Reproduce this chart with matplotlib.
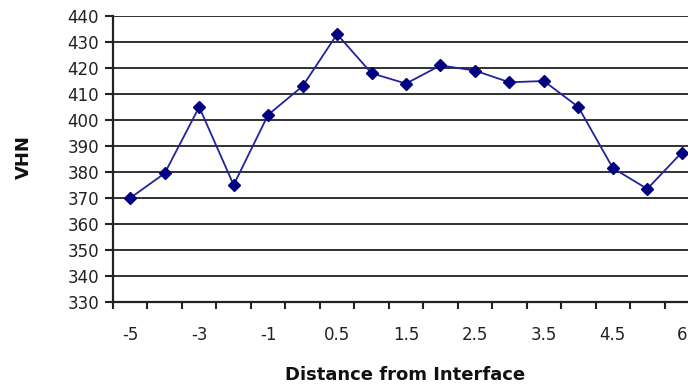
import numpy as np
import matplotlib
matplotlib.use('Agg')
from matplotlib import pyplot as plt

# distance categories (Excel category axis) and hardness readings
distance = ['-5', '-4', '-3', '-2', '-1', '0', '0.5', '1', '1.5', '2',
            '2.5', '3', '3.5', '4', '4.5', '5', '6']
vhn = [370, 379.5, 405, 375, 402, 413, 433, 418, 414, 421,
       419, 414.5, 415, 405, 381.5, 373.5, 387.5]
shown_labels = ['-5', '-3', '-1', '0.5', '1.5', '2.5', '3.5', '4.5', '6']
y_ticks = list(range(330, 441, 10))

plt.rcParams['font.family'] = ['DejaVu Sans']

fig = plt.figure(figsize=(6.88, 3.85), dpi=100)
ax = fig.add_axes([113 / 688, 1 - 302 / 385, 586 / 688, 286 / 385])

pos = np.arange(len(distance))
ax.plot(pos, vhn, color='#23239a', lw=1.3, marker='D', ms=6,
        mfc='#000080', mec='#000080', zorder=3)

ax.set_ylim(330, 440)
ax.set_xlim(-0.5, len(distance) - 0.5)
ax.set_yticks(y_ticks)
ax.set_yticklabels([str(v) for v in y_ticks], fontsize=12, color='#222222')
ax.yaxis.grid(True, color='#222222', lw=1.3)
ax.set_axisbelow(True)

# ticks sit between categories, labels on every other category
ax.set_xticks(np.arange(-0.5, len(distance), 1.0))
ax.set_xticklabels([])
label_pos = [distance.index(s) for s in shown_labels]
ax.set_xticks(label_pos, minor=True)
ax.set_xticklabels(shown_labels, minor=True, fontsize=12, color='#222222')
ax.tick_params(axis='x', which='minor', length=0, pad=17)
ax.tick_params(axis='x', which='major', length=5, width=1.5, color='#222222')
ax.tick_params(axis='y', length=6, width=1.5, color='#222222', pad=4)

for s in ['top', 'right']:
    ax.spines[s].set_visible(False)
for s in ['left', 'bottom']:
    ax.spines[s].set_linewidth(1.6)
    ax.spines[s].set_color('#222222')

fig.text(24 / 688, 1 - 157 / 385, 'VHN', rotation=90, ha='center',
         va='center', fontsize=13, fontweight='bold', color='#111111')
fig.text(405 / 688, 1 - 375 / 385, 'Distance from Interface', ha='center',
         va='center', fontsize=13, fontweight='bold', color='#111111')

fig.savefig('out.png', dpi=100)
